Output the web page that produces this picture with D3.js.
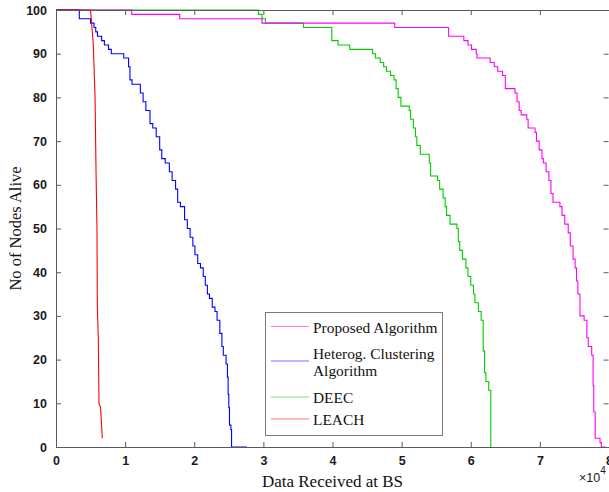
<!DOCTYPE html>
<html>
<head>
<meta charset="utf-8">
<script src="https://cdn.jsdelivr.net/npm/d3@7"></script>
<style>
  html, body { margin: 0; padding: 0; background: #fff; }
  svg { display: block; }
</style>
</head>
<body>
<svg id="chart" width="609" height="492"></svg>
<script>
// Network lifetime: alive nodes vs. data received at the base station (×10^4 packets)
const xTicks = [0, 1, 2, 3, 4, 5, 6, 7, 8];
const yTicks = [0, 10, 20, 30, 40, 50, 60, 70, 80, 90, 100];

const seriesNames = ["Proposed Algorithm", "Heterog. Clustering\nAlgorithm", "DEEC", "LEACH"];
const seriesColors = ["#ff00ff", "#0000ff", "#00cc00", "#ff0000"];

// Step series: each x is where the alive-node count drops to the paired y value
const proposedX = [0, 1.095, 1.79, 2.98, 4.90, 5.68, 5.90, 5.96, 6.01, 6.08, 6.09, 6.28, 6.34, 6.39, 6.46, 6.50,
  6.64, 6.67, 6.70, 6.73, 6.81, 6.83, 6.93, 6.95, 6.99, 7.03, 7.05, 7.09, 7.13, 7.16, 7.19, 7.29, 7.32, 7.36,
  7.41, 7.44, 7.48, 7.51, 7.53, 7.55, 7.58, 7.64, 7.68, 7.70, 7.75, 7.77, 7.78, 7.80, 7.87, 7.89, 7.95];
const proposedY = [100, 99, 98, 97, 96, 94, 93, 92, 91, 90, 89, 88, 87, 86, 85, 82,
  81, 79, 77, 76, 75, 73, 72, 70, 68, 66, 65, 63, 61, 58, 56, 55, 53, 51,
  49, 46, 43, 41, 38, 35, 30, 29, 25, 23, 21, 14, 8, 2, 1, 0, 0];

const heterogX = [0, 0.337, 0.50, 0.55, 0.575, 0.60, 0.66, 0.70, 0.76, 0.80, 0.98, 1.05, 1.07, 1.10, 1.22, 1.26,
  1.30, 1.36, 1.40, 1.45, 1.50, 1.53, 1.58, 1.64, 1.68, 1.73, 1.76, 1.80, 1.86, 1.90, 1.94, 1.98, 2.01, 2.05,
  2.09, 2.13, 2.16, 2.19, 2.22, 2.26, 2.30, 2.33, 2.37, 2.40, 2.42, 2.46, 2.48, 2.49, 2.50, 2.51, 2.53, 2.54, 2.76];
const heterogY = [100, 98, 97, 96, 95, 94, 93, 92, 91, 90, 89, 87, 84, 83, 81, 79,
  77, 74, 73, 71, 68, 66, 65, 63, 61, 59, 56, 55, 52, 50, 48, 46, 44, 42,
  41, 39, 37, 35, 34, 32, 31, 29, 26, 23, 21, 19, 16, 12, 9, 5, 4, 0, 0];

const deecX = [0, 2.93, 2.98, 3.03, 3.58, 3.99, 4.08, 4.25, 4.58, 4.62, 4.69, 4.74, 4.78, 4.84, 4.89, 4.92, 4.95,
  4.99, 5.11, 5.13, 5.17, 5.20, 5.22, 5.27, 5.40, 5.42, 5.52, 5.55, 5.60, 5.63, 5.65, 5.70, 5.80, 5.82, 5.84,
  5.88, 5.93, 5.96, 6.00, 6.04, 6.06, 6.11, 6.15, 6.18, 6.20, 6.22, 6.26, 6.29, 6.30];
const deecY = [100, 99, 98, 97, 96, 93, 92, 91, 90, 89, 88, 87, 86, 85, 84, 82, 80,
  78, 77, 75, 73, 71, 69, 67, 65, 62, 61, 59, 57, 55, 53, 51, 50, 47, 45,
  43, 41, 39, 37, 35, 33, 31, 29, 22, 17, 15, 13, 0, 0];

// LEACH is drawn as a plain polyline
const leachX = [0, 0.50, 0.54, 0.565, 0.58, 0.593, 0.598, 0.612, 0.622, 0.645, 0.67];
const leachY = [100, 100, 92, 80, 62, 50, 32, 25, 10, 9, 2];

const svg = d3.select("#chart");
const plot = { left: 56, right: 609, top: 10, bottom: 447 };

const x = d3.scaleLinear().domain([0, 8]).range([plot.left, plot.right]);
const y = d3.scaleLinear().domain([0, 100]).range([plot.bottom, plot.top]);

const axisColor = "#5a5a5a";
const tickFont = "'Liberation Sans', Arial, sans-serif";
const serif = "'Liberation Serif', 'DejaVu Serif', serif";

const zip = (xs, ys) => xs.map((v, i) => [v, ys[i]]);
const stepLine = d3.line().x(d => x(d[0])).y(d => y(d[1])).curve(d3.curveStepAfter);
const straightLine = d3.line().x(d => x(d[0])).y(d => y(d[1]));

svg.append("defs").append("clipPath").attr("id", "plotClip")
  .append("rect").attr("x", plot.left).attr("y", plot.top - 1)
  .attr("width", plot.right - plot.left + 2).attr("height", plot.bottom - plot.top + 2);

const lines = svg.append("g").attr("clip-path", "url(#plotClip)");
const seriesData = [
  { pts: zip(proposedX, proposedY), gen: stepLine },
  { pts: zip(heterogX, heterogY), gen: stepLine },
  { pts: zip(deecX, deecY), gen: stepLine },
  { pts: zip(leachX, leachY), gen: straightLine }
];
// draw back-to-front so LEACH sits on top
[2, 0, 1, 3].forEach(i => {
  lines.append("path")
    .attr("d", seriesData[i].gen(seriesData[i].pts))
    .attr("fill", "none")
    .attr("stroke", seriesColors[i])
    .attr("stroke-width", 1.1);
});

// Box axes with inward ticks
const bottomAxis = d3.axisBottom(x).tickValues(xTicks).tickSize(-5).tickPadding(9).tickFormat(d3.format("d"));
const topAxis = d3.axisTop(x).tickValues(xTicks).tickSize(-5).tickFormat("");
const leftAxis = d3.axisLeft(y).tickValues(yTicks).tickSize(-5).tickPadding(9).tickFormat(d3.format("d"));
const rightAxis = d3.axisRight(y).tickValues(yTicks).tickSize(-5).tickFormat("");

function styleAxis(g) {
  g.select(".domain").remove();
  g.selectAll(".tick line").attr("stroke", axisColor).attr("stroke-width", 1);
  g.selectAll(".tick text").attr("fill", "#1a1a1a")
    .style("font-family", tickFont).style("font-size", "12.5px").style("font-weight", "bold");
}

svg.append("g").attr("transform", `translate(0,${plot.bottom})`).call(bottomAxis).call(styleAxis);
svg.append("g").attr("transform", `translate(0,${plot.top})`).call(topAxis).call(styleAxis);
svg.append("g").attr("transform", `translate(${plot.left},0)`).call(leftAxis).call(styleAxis);
svg.append("g").attr("transform", `translate(${plot.right - 0.5},0)`).call(rightAxis).call(styleAxis);

svg.append("rect")
  .attr("x", plot.left + 0.5).attr("y", plot.top + 0.5)
  .attr("width", plot.right - plot.left).attr("height", plot.bottom - plot.top)
  .attr("fill", "none").attr("stroke", axisColor).attr("stroke-width", 1);

// Exponent marker for the x axis
const expo = svg.append("text").attr("x", 579).attr("y", 482)
  .style("font-family", tickFont).style("font-size", "12.5px").attr("fill", "#1a1a1a");
expo.append("tspan").text("×10");
expo.append("tspan").attr("dy", -8).style("font-size", "10px").text("4");

// Axis titles
svg.append("text")
  .attr("x", (plot.left + plot.right) / 2).attr("y", 487)
  .attr("text-anchor", "middle")
  .style("font-family", serif).style("font-size", "17px").attr("fill", "#111")
  .text("Data Received at BS");

svg.append("text")
  .attr("transform", `translate(21,${(plot.top + plot.bottom) / 2}) rotate(-90)`)
  .attr("text-anchor", "middle")
  .style("font-family", serif).style("font-size", "16.5px").attr("fill", "#111")
  .text("No of Nodes Alive");

// Legend
const legend = svg.append("g");
legend.append("rect")
  .attr("x", 265.5).attr("y", 312.5).attr("width", 177).attr("height", 123)
  .attr("fill", "#fff").attr("stroke", "#7a7a7a").attr("stroke-width", 1);

const legendRows = [326.5, 361, 397, 419];
seriesNames.forEach((name, i) => {
  const yy = legendRows[i];
  legend.append("line")
    .attr("x1", 271).attr("x2", 309).attr("y1", yy).attr("y2", yy)
    .attr("stroke", seriesColors[i]).attr("stroke-width", 1).attr("stroke-opacity", 0.55);
  const parts = name.split("\n");
  const t = legend.append("text")
    .attr("x", 313).attr("y", yy + (parts.length > 1 ? -8.5 : 0))
    .attr("dominant-baseline", "central")
    .style("font-family", serif).style("font-size", "15.4px").attr("fill", "#111");
  parts.forEach((p, j) => {
    t.append("tspan").attr("x", 313).attr("dy", j === 0 ? 0 : 17).text(p);
  });
});
</script>
</body>
</html>
